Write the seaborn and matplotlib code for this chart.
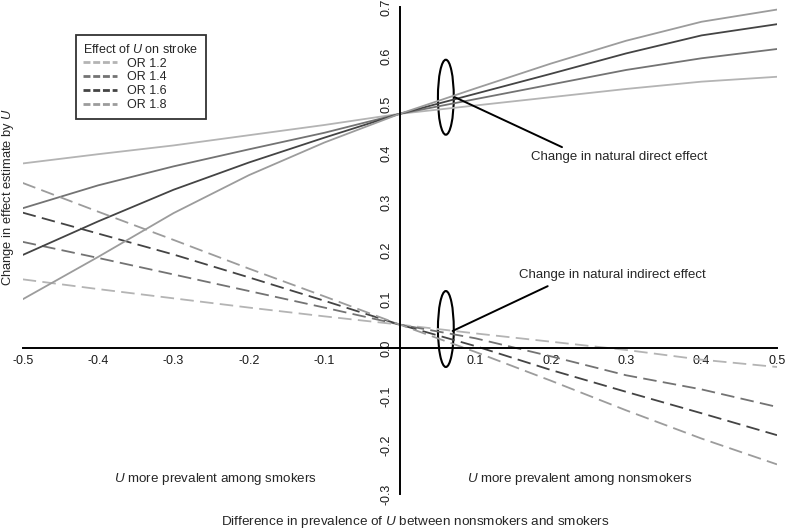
import pandas as pd
import seaborn as sns
import matplotlib.pyplot as plt
from matplotlib.lines import Line2D
from matplotlib.patches import Ellipse

sns.set_theme(style="white")
plt.rcParams['font.family'] = ['Liberation Sans', 'DejaVu Sans']
plt.rcParams['mathtext.fontset'] = 'custom'
plt.rcParams['mathtext.it'] = 'Liberation Sans:italic'
plt.rcParams['mathtext.rm'] = 'Liberation Sans'
plt.rcParams['axes.unicode_minus'] = False

prev_diff = [-0.5, -0.4, -0.3, -0.2, -0.1, 0.0, 0.1, 0.2, 0.3, 0.4, 0.5]
or_labels = ['OR 1.2', 'OR 1.4', 'OR 1.6', 'OR 1.8']

# natural direct effect (solid)
direct = {
    'OR 1.2': [0.379, 0.398, 0.416, 0.437, 0.458, 0.481, 0.498, 0.515, 0.532, 0.547, 0.557],
    'OR 1.4': [0.287, 0.334, 0.373, 0.408, 0.442, 0.481, 0.511, 0.541, 0.571, 0.595, 0.614],
    'OR 1.6': [0.191, 0.260, 0.325, 0.381, 0.432, 0.481, 0.522, 0.563, 0.605, 0.642, 0.665],
    'OR 1.8': [0.100, 0.187, 0.277, 0.355, 0.422, 0.481, 0.533, 0.584, 0.631, 0.670, 0.695],
}
# natural indirect effect (dashed)
indirect = {
    'OR 1.2': [0.141, 0.121, 0.102, 0.083, 0.065, 0.048, 0.030, 0.013, -0.004, -0.024, -0.039],
    'OR 1.4': [0.218, 0.185, 0.151, 0.117, 0.083, 0.048, 0.020, -0.017, -0.056, -0.085, -0.121],
    'OR 1.6': [0.278, 0.235, 0.192, 0.145, 0.097, 0.048, 0.004, -0.045, -0.090, -0.134, -0.179],
    'OR 1.8': [0.339, 0.280, 0.222, 0.163, 0.106, 0.048, -0.008, -0.067, -0.128, -0.186, -0.239],
}

palette = {'OR 1.2': '#b4b4b4', 'OR 1.4': '#737373', 'OR 1.6': '#444444', 'OR 1.8': '#9c9c9c'}

rows = []
for effect, table in [('direct', direct), ('indirect', indirect)]:
    for lab in or_labels:
        for xv, yv in zip(prev_diff, table[lab]):
            rows.append({'diff': xv, 'change': yv, 'OR': lab, 'effect': effect})
data = pd.DataFrame(rows)

fig = plt.figure(figsize=(7.87, 5.29), dpi=100)
ax = fig.add_axes([0.0288, 0.066, 0.9585, 0.9205])

sns.lineplot(data=data, x='diff', y='change', hue='OR', style='effect',
             units='OR', estimator=None,
             palette=palette, dashes={'direct': '', 'indirect': (7.5, 3.5)},
             linewidth=1.3, legend=False, ax=ax)

ax.set_xlim(-0.5, 0.5)
ax.set_ylim(-0.3, 0.7)
for side in ['top', 'right']:
    ax.spines[side].set_visible(False)
ax.spines['left'].set_position(('data', 0))
ax.spines['bottom'].set_position(('data', 0))
for side in ['left', 'bottom']:
    ax.spines[side].set_color('black')
    ax.spines[side].set_linewidth(1.4)

xt = [-0.5, -0.4, -0.3, -0.2, -0.1, 0.1, 0.2, 0.3, 0.4, 0.5]
ax.set_xticks(xt)
ax.set_xticklabels([f'{v:.1f}' for v in xt])
yt = [-0.3, -0.2, -0.1, 0.0, 0.1, 0.2, 0.3, 0.4, 0.5, 0.6, 0.7]
ax.set_yticks(yt)
ax.set_yticklabels([f'{v:.1f}' for v in yt], rotation=90, va='center')
ax.tick_params(axis='both', direction='out', length=3, width=1, color='black',
               labelsize=9, labelcolor='#1a1a1a', pad=2)
ax.set_xlabel('')
ax.set_ylabel('')

# ellipses marking the two bundles of curves
ax.add_patch(Ellipse((0.061, 0.515), 0.021, 0.154, fill=False, lw=1.5, color='black'))
ax.add_patch(Ellipse((0.061, 0.039), 0.021, 0.156, fill=False, lw=1.5, color='black'))
ax.plot([0.073, 0.215], [0.515, 0.4125], color='black', lw=1.4)
ax.plot([0.070, 0.196], [0.035, 0.127], color='black', lw=1.4)

ax.text(0.291, 0.392, 'Change in natural direct effect', ha='center', va='center', fontsize=9.5)
ax.text(0.282, 0.150, 'Change in natural indirect effect', ha='center', va='center', fontsize=9.5)
ax.text(-0.245, -0.269, '$\\it{U}$ more prevalent among smokers', ha='center', va='center', fontsize=9.6)
ax.text(0.238, -0.269, '$\\it{U}$ more prevalent among nonsmokers', ha='center', va='center', fontsize=9.6)

fig.text(8 / 787, 1 - 197 / 529, 'Change in effect estimate by $\\it{U}$', rotation=90,
         ha='center', va='center', fontsize=9.3)
fig.text(415 / 787, 1 - 522 / 529, 'Difference in prevalence of $\\it{U}$ between nonsmokers and smokers',
         ha='center', va='center', fontsize=9.7)

handles = [Line2D([0], [0], color=palette[lab], lw=2, dashes=(2.5, 1)) for lab in or_labels]
leg = ax.legend(handles, or_labels, title='Effect of $\\it{U}$ on stroke', loc='upper left',
                bbox_to_anchor=(0.0707, 0.9425), borderaxespad=0, fontsize=9,
                title_fontsize=9, frameon=True, fancybox=False, handlelength=2.7,
                labelspacing=0.15, borderpad=0.6, alignment='left')
leg.get_frame().set_edgecolor('black')
leg.get_frame().set_linewidth(1.3)

fig.savefig('out.png', dpi=100)
